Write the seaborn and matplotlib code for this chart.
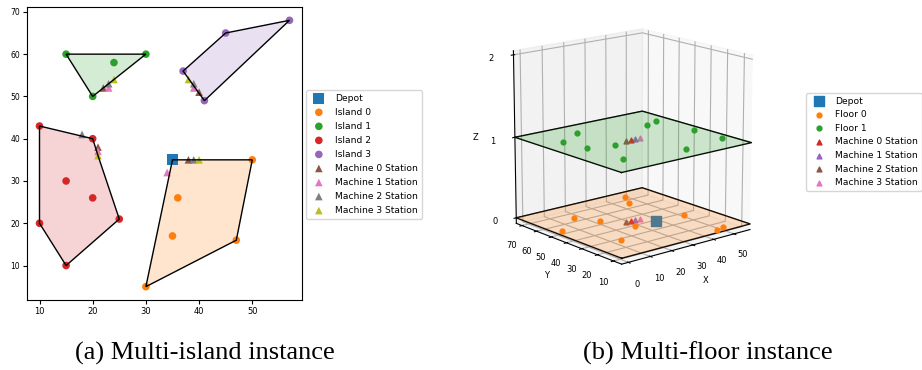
import numpy as np
import matplotlib
matplotlib.use("Agg")
import matplotlib.pyplot as plt
import seaborn as sns
import pandas as pd

plt.rcParams['font.family'] = ['DejaVu Sans']

# ---------------- (a) multi-island data ----------------
depot_xy = [35, 35]
island_x = {
    "Island 0": [30, 47, 50, 36, 35],
    "Island 1": [15, 30, 20, 24],
    "Island 2": [10, 20, 25, 15, 10, 15, 20],
    "Island 3": [37, 45, 57, 41],
}
island_y = {
    "Island 0": [5, 16, 35, 26, 17],
    "Island 1": [60, 60, 50, 58],
    "Island 2": [43, 40, 21, 10, 20, 30, 26],
    "Island 3": [56, 65, 68, 49],
}
hull_x = {
    "Island 0": [30, 35, 50, 47],
    "Island 1": [15, 30, 20],
    "Island 2": [10, 20, 21, 25, 15, 10],
    "Island 3": [37, 45, 57, 41],
}
hull_y = {
    "Island 0": [5, 35, 35, 16],
    "Island 1": [60, 60, 50],
    "Island 2": [43, 40, 36, 21, 10, 20],
    "Island 3": [56, 65, 68, 49],
}
station_x = {
    "Machine 0 Station": [38, 22, 21, 40],
    "Machine 1 Station": [34, 23, 21, 39],
    "Machine 2 Station": [39, 23, 18, 39],
    "Machine 3 Station": [40, 24, 21, 38],
}
station_y = {
    "Machine 0 Station": [35, 52, 38, 51],
    "Machine 1 Station": [32, 52, 37, 52],
    "Machine 2 Station": [35, 53, 41, 53],
    "Machine 3 Station": [35, 54, 36, 54],
}
island_colors = {"Island 0": "tab:orange", "Island 1": "tab:green",
                 "Island 2": "tab:red", "Island 3": "tab:purple"}
station_colors_a = {"Machine 0 Station": "tab:brown", "Machine 1 Station": "tab:pink",
                    "Machine 2 Station": "tab:gray", "Machine 3 Station": "tab:olive"}

# ---------------- (b) multi-floor data ----------------
floor0_x = [45, 41, 13, 18, 47, 24, 0, 10, 44, 48]
floor0_y = [68, 60, 58, 48, 32, 33, 47, 23, 8, 9]
floor1_x = [18, 6, 8, 18, 8, 46, 52, 54, 54, 34]
floor1_y = [63, 55, 42, 38, 19, 55, 57, 35, 18, 15]
depot_b = [34, 33, 0]
station_b_x = {"Machine 0 Station": 26.6, "Machine 1 Station": 28.8,
               "Machine 2 Station": 24.4, "Machine 3 Station": 31.0}
station_b_y = 39.5
floor_levels = [0, 1]
station_colors_b = {"Machine 0 Station": "tab:red", "Machine 1 Station": "tab:purple",
                    "Machine 2 Station": "tab:brown", "Machine 3 Station": "tab:pink"}
xlim_b = [-3, 58]
ylim_b = [5, 74]
zlim_b = [-0.07, 2.05]

fig = plt.figure(figsize=(9.22, 3.70), dpi=100)

# ---------------- left panel ----------------
ax = fig.add_axes([27/922, 1-300/370, 275/922, 293/370])
for name in island_x:
    ax.fill(hull_x[name], hull_y[name], color=island_colors[name], alpha=0.2, lw=0, zorder=1)
    ax.fill(hull_x[name], hull_y[name], facecolor="none", edgecolor="black", lw=1.0, zorder=3)

sns.scatterplot(x=[depot_xy[0]], y=[depot_xy[1]], marker="s", s=60, color="tab:blue",
                edgecolor="none", label="Depot", ax=ax, zorder=2)
for name in island_x:
    sns.scatterplot(x=island_x[name], y=island_y[name], marker="o", s=30,
                    color=island_colors[name], edgecolor="none", label=name, ax=ax, zorder=2)
for name in station_x:
    sns.scatterplot(x=station_x[name], y=station_y[name], marker="^", s=30,
                    color=station_colors_a[name], edgecolor="none", label=name, ax=ax, zorder=2)
ax.set_xticks([10, 20, 30, 40, 50])
ax.set_yticks([10, 20, 30, 40, 50, 60, 70])
ax.tick_params(axis="x", labelsize=6, length=3, width=0.8, pad=2)
ax.tick_params(axis="y", labelsize=5.5, length=3, width=0.8, pad=2)
ax.set_xlabel("")
ax.set_ylabel("")
h, l = ax.get_legend_handles_labels()
ax.get_legend().remove()
fig.legend(h, l, loc="upper left", bbox_to_anchor=(306/922, 1-90/370), fontsize=6.6,
           borderaxespad=0, labelspacing=0.55)

# ---------------- right panel (3D) ----------------
ax3 = fig.add_axes([0.481, 0.142, 0.40, 0.93], projection="3d")
ax3.view_init(elev=15, azim=-130)
ax3.set_box_aspect((1, 1, 1.07), zoom=0.84)
ax3.set_xlim(xlim_b)
ax3.set_ylim(ylim_b)
ax3.set_zlim(zlim_b)
fx = np.array(xlim_b)
fy = np.array(ylim_b)
FX, FY = np.meshgrid(fx, fy)
for lvl, col in zip(floor_levels, ["tab:orange", "tab:green"]):
    ax3.plot_surface(FX, FY, np.full_like(FX, lvl, dtype=float), color=col, alpha=0.22,
                     shade=False, linewidth=0)
    ax3.plot([fx[0], fx[1], fx[1], fx[0], fx[0]], [fy[0], fy[0], fy[1], fy[1], fy[0]],
             [lvl]*5, color="black", lw=1.0)

ax3.scatter([depot_b[0]], [depot_b[1]], [depot_b[2]], marker="s", s=45, color="#3f7496",
            depthshade=False, label="Depot")
ax3.scatter(floor0_x, floor0_y, np.zeros(len(floor0_x)), marker="o", s=12, color="tab:orange",
            depthshade=False, label="Floor 0")
ax3.scatter(floor1_x, floor1_y, np.ones(len(floor1_x)), marker="o", s=12, color="tab:green",
            depthshade=False, label="Floor 1")
for name in station_b_x:
    ax3.scatter([station_b_x[name]]*len(floor_levels), [station_b_y]*len(floor_levels),
                floor_levels, marker="^", s=12, color=station_colors_b[name],
                depthshade=False, label=name)
ax3.set_xticks([0, 10, 20, 30, 40, 50])
ax3.set_yticks([10, 20, 30, 40, 50, 60, 70])
ax3.set_zticks([0, 1, 2])
ax3.tick_params(labelsize=6)
ax3.xaxis.set_tick_params(pad=2)
ax3.yaxis.set_tick_params(pad=2)
ax3.zaxis.set_tick_params(pad=4)
ax3.set_xlabel("X", fontsize=6, labelpad=-1)
ax3.set_ylabel("Y", fontsize=6, labelpad=-1)
ax3.set_zlabel("Z", fontsize=6, labelpad=1)
h3, l3 = ax3.get_legend_handles_labels()
h3[0].set_color("tab:blue")
fig.legend(h3, l3, loc="upper left", bbox_to_anchor=(806/922, 1-93/370), fontsize=6.6,
           borderaxespad=0)

serif = ["Liberation Serif", "DejaVu Serif"]
fig.text(205/922, 1-353/370, "(a) Multi-island instance", family=serif, fontsize=19,
         ha="center", va="center")
fig.text(708/922, 1-353/370, "(b) Multi-floor instance", family=serif, fontsize=19,
         ha="center", va="center")

fig.savefig("out.png", dpi=100)
